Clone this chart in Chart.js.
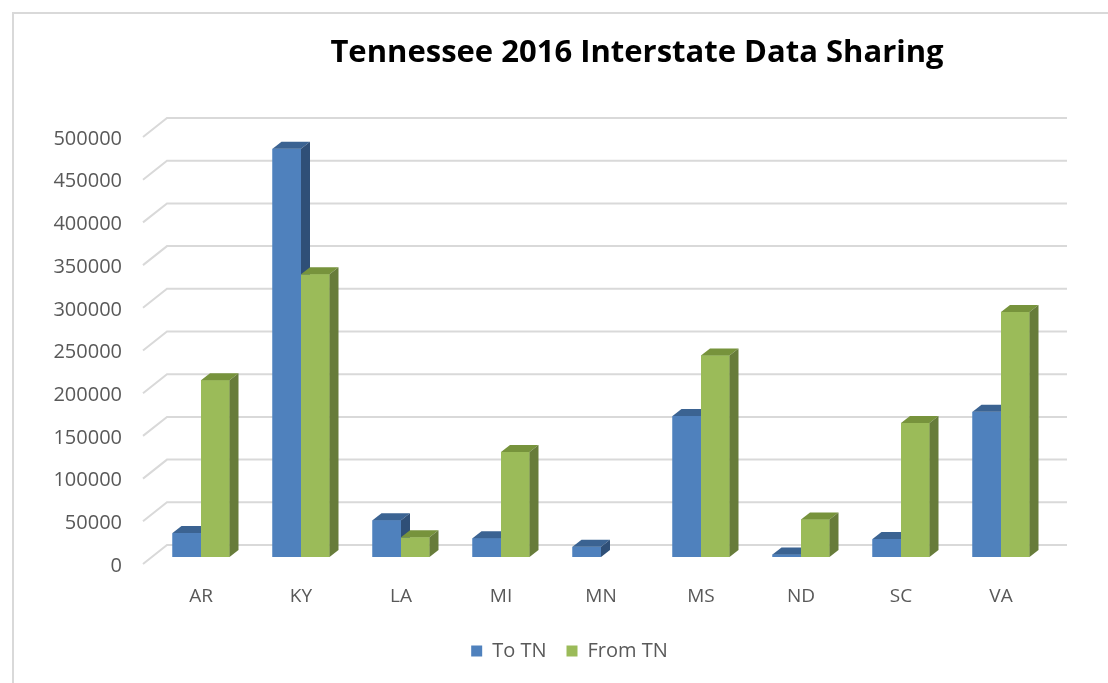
<!DOCTYPE html>
<html>
<head>
<meta charset="utf-8">
<script src="https://cdn.jsdelivr.net/npm/chart.js@4.4.1/dist/chart.umd.min.js"></script>
<style>
html, body { margin: 0; padding: 0; background: #fff; }
#wrap { width: 1108px; height: 683px; }
</style>
</head>
<body>
<div id="wrap"><canvas id="chart"></canvas></div>
<script>
const states = ['AR', 'KY', 'LA', 'MI', 'MN', 'MS', 'ND', 'SC', 'VA'];
const toTN = [28000, 478000, 43000, 22000, 12000, 165000, 3000, 21000, 170000];
const fromTN = [207000, 331000, 23000, 123000, 0, 236000, 44000, 157000, 287000];
const seriesNames = ['To TN', 'From TN'];
const titleText = 'Tennessee 2016 Interstate Data Sharing';

const faces = [
    { front: '#4f81bd', top: '#3b6392', side: '#2f4f77' }, // blue
    { front: '#9bbb59', top: '#77933c', side: '#677c3a' }  // green
];
const depth = { x: 9, y: 7 };     // bar depth
const wall = { x: 16, y: 12 };    // back wall offset from bar plane
const floor = { x: -8, y: 7 };    // front edge offset from bar plane
const gridColor = '#d9d9d9';
const textColor = '#595959';
const font = 'Open Sans';

const bars3d = {
    id: 'bars3d',
    afterLayout(chart) {
        // legend sits a bit right of the canvas centre in the original
        chart.legend.left += 44;
        chart.legend.right += 44;
    },
    beforeDraw(chart) {
        const ctx = chart.ctx;
        ctx.save();
        ctx.strokeStyle = gridColor;
        ctx.lineWidth = 2;
        ctx.beginPath();
        ctx.moveTo(13, chart.height);
        ctx.lineTo(13, 13);
        ctx.lineTo(chart.width, 13);
        ctx.stroke();
        // title
        ctx.fillStyle = '#000';
        ctx.font = 'bold 31px "' + font + '"';
        ctx.textAlign = 'center';
        ctx.textBaseline = 'middle';
        ctx.fillText(titleText, 637, 53);
        ctx.restore();
    },
    beforeDatasetsDraw(chart) {
        const ctx = chart.ctx;
        const y = chart.scales.y;
        const area = chart.chartArea;
        ctx.save();
        ctx.strokeStyle = gridColor;
        ctx.lineWidth = 2;
        y.ticks.forEach(t => {
            const py = y.getPixelForValue(t.value);
            ctx.beginPath();
            ctx.moveTo(area.left + floor.x, py + floor.y);
            ctx.lineTo(area.left + wall.x, py - wall.y);
            ctx.lineTo(area.right + wall.x, py - wall.y);
            ctx.stroke();
        });
        ctx.restore();
    },
    afterDatasetsDraw(chart) {
        const ctx = chart.ctx;
        const metas = chart.data.datasets.map((d, i) => chart.getDatasetMeta(i));
        ctx.save();
        for (let j = 0; j < states.length; j++) {
            metas.forEach((meta, i) => {
                const bar = meta.data[j];
                const p = bar.getProps(['x', 'y', 'base', 'width'], true);
                if (p.base - p.y < 0.5) return;
                const l = p.x - p.width / 2, r = p.x + p.width / 2;
                const f = faces[i];
                ctx.fillStyle = f.front;
                ctx.fillRect(l, p.y, r - l, p.base - p.y);
                ctx.fillStyle = f.top;
                ctx.beginPath();
                ctx.moveTo(l, p.y);
                ctx.lineTo(l + depth.x, p.y - depth.y);
                ctx.lineTo(r + depth.x, p.y - depth.y);
                ctx.lineTo(r, p.y);
                ctx.closePath();
                ctx.fill();
                ctx.fillStyle = f.side;
                ctx.beginPath();
                ctx.moveTo(r, p.y);
                ctx.lineTo(r + depth.x, p.y - depth.y);
                ctx.lineTo(r + depth.x, p.base - depth.y);
                ctx.lineTo(r, p.base);
                ctx.closePath();
                ctx.fill();
            });
        }
        ctx.restore();
    }
};

new Chart(document.getElementById('chart'), {
    type: 'bar',
    data: {
        labels: states,
        datasets: [
            { label: seriesNames[0], data: toTN, backgroundColor: faces[0].front },
            { label: seriesNames[1], data: fromTN, backgroundColor: faces[1].front }
        ]
    },
    options: {
        responsive: true,
        maintainAspectRatio: false,
        animation: false,
        datasets: { bar: { categoryPercentage: 0.57, barPercentage: 1.0 } },
        layout: { padding: { top: 130, right: 57, bottom: 12, left: 0 } },
        plugins: {
            title: { display: false },
            tooltip: { enabled: false },
            legend: {
                position: 'bottom',
                labels: {
                    color: textColor,
                    font: { family: font, size: 20 },
                    boxWidth: 11,
                    boxHeight: 11,
                    padding: 20
                }
            }
        },
        scales: {
            x: {
                grid: { display: false, drawTicks: false },
                border: { display: false },
                ticks: { color: textColor, font: { family: font, size: 19 }, padding: 28 },
                afterFit: s => { s.height = 64; }
            },
            y: {
                min: 0,
                max: 500000,
                grid: { display: false, drawTicks: false },
                border: { display: false },
                ticks: {
                    stepSize: 50000,
                    color: textColor,
                    font: { family: font, size: 20 },
                    padding: 29,
                    labelOffset: 9,
                    callback: v => String(v)
                },
                afterFit: s => { s.width = 151; }
            }
        }
    },
    plugins: [bars3d]
});
</script>
</body>
</html>
